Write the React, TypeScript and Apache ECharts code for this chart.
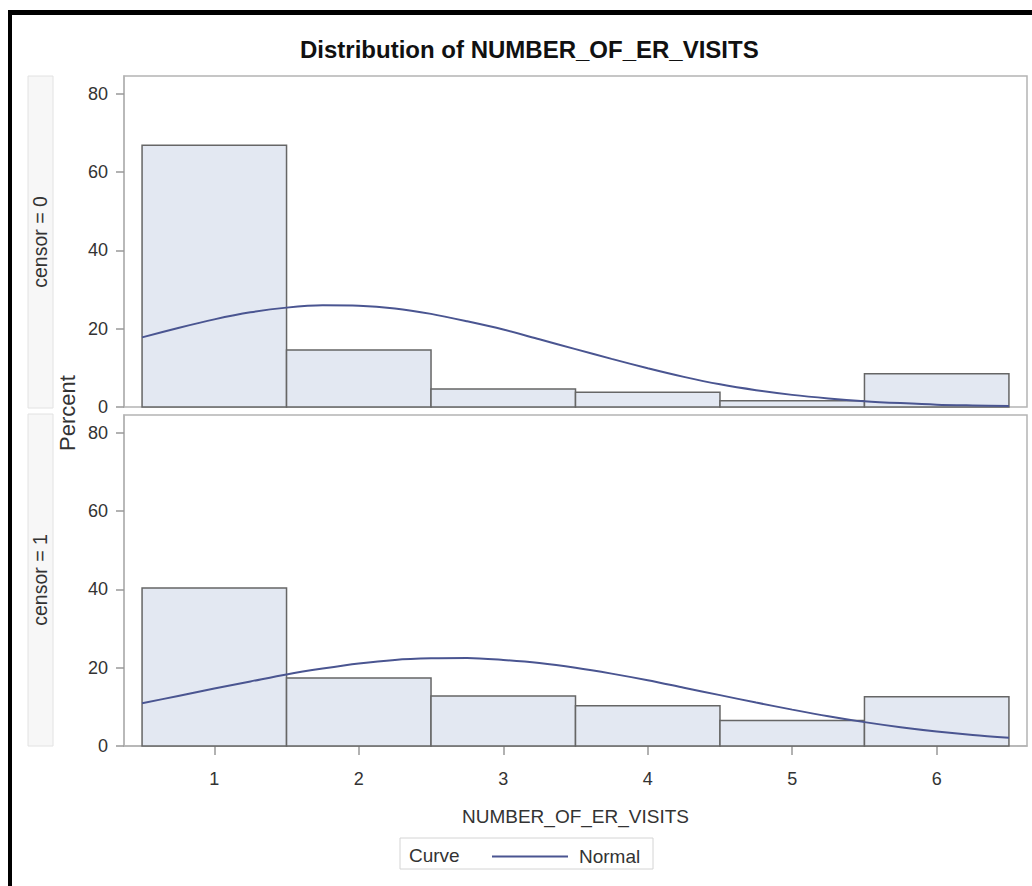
import React, { useEffect, useRef } from 'react';
import * as echarts from 'echarts';

// ---- data ----
const visits = [1, 2, 3, 4, 5, 6];
const pctCensor0 = [66.9, 14.6, 4.6, 3.8, 1.6, 8.5];
const pctCensor1 = [40.4, 17.4, 12.8, 10.3, 6.5, 12.6];
const curveX = [0.5, 0.75, 1, 1.25, 1.5, 1.75, 2, 2.25, 2.5, 2.75, 3, 3.25, 3.5, 3.75, 4, 4.25, 4.5, 4.75, 5, 5.25, 5.5, 5.75, 6, 6.25, 6.5];
const normal0 = [17.8, 20.2, 22.4, 24.2, 25.4, 26.0, 25.9, 25.2, 23.8, 21.9, 19.8, 17.3, 14.8, 12.3, 9.9, 7.7, 5.8, 4.3, 3.1, 2.2, 1.5, 1.0, 0.6, 0.4, 0.25];
const normal1 = [10.9, 12.8, 14.7, 16.5, 18.3, 19.8, 21.1, 22.0, 22.4, 22.5, 22.0, 21.2, 20.0, 18.5, 16.8, 14.9, 13.0, 11.1, 9.3, 7.6, 6.1, 4.8, 3.7, 2.8, 2.1];
const yTickValues = [0, 20, 40, 60, 80];
const xTickValues = [1, 2, 3, 4, 5, 6];
const panelLabels = ['censor = 0', 'censor = 1'];

const FONT = '"Liberation Sans", Arial, Helvetica, sans-serif';
const BAR_FILL = '#e3e8f2';
const BAR_STROKE = '#666666';
const CURVE = '#4a5591';
const FRAME = '#b4b4b4';
const TEXT = '#333333';

export default function App() {
  const ref = useRef<HTMLDivElement>(null);

  useEffect(() => {
    if (!ref.current) return;
    const chart = echarts.init(ref.current, undefined, { renderer: 'svg' });

    const barSeries = (data: number[], idx: number) => ({
      type: 'custom',
      name: 'Histogram ' + idx,
      xAxisIndex: idx,
      yAxisIndex: idx,
      encode: { x: 0, y: 1 },
      data: visits.map((v, i) => [v, data[i]]),
      renderItem: (params: any, api: any) => {
        const x = api.value(0);
        const h = api.value(1);
        const p0 = api.coord([x - 0.5, h]);
        const p1 = api.coord([x + 0.5, 0]);
        return {
          type: 'rect',
          shape: { x: p0[0], y: p0[1], width: p1[0] - p0[0], height: p1[1] - p0[1] },
          style: { fill: BAR_FILL, stroke: BAR_STROKE, lineWidth: 1.5 },
        };
      },
      z: 2,
    });

    const lineSeries = (data: number[], idx: number) => ({
      type: 'line',
      name: 'Normal',
      xAxisIndex: idx,
      yAxisIndex: idx,
      data: curveX.map((x, i) => [x, data[i]]),
      smooth: 0.3,
      symbol: 'none',
      showSymbol: false,
      lineStyle: { color: CURVE, width: 2 },
      itemStyle: { color: CURVE },
      z: 3,
    });

    const yAxis = (idx: number) => ({
      type: 'value',
      gridIndex: idx,
      min: 0,
      max: 84.6,
      axisLine: { show: true, lineStyle: { color: FRAME, width: 1.5 } },
      axisTick: { show: true, length: 8, customValues: yTickValues, lineStyle: { color: '#999999', width: 1.5 } },
      axisLabel: { customValues: yTickValues, fontSize: 18, color: TEXT, margin: 16, fontFamily: FONT },
      splitLine: { show: false },
    });

    const option: any = {
      animation: false,
      backgroundColor: '#ffffff',
      textStyle: { fontFamily: FONT },
      title: {
        text: 'Distribution of NUMBER_OF_ER_VISITS',
        left: 300,
        top: 37,
        padding: 0,
        textStyle: { fontSize: 24, fontWeight: 'bold', color: '#111111', fontFamily: FONT },
      },
      legend: {
        data: [{ name: 'Normal', icon: 'rect' }],
        left: 492,
        top: 847,
        padding: 0,
        itemWidth: 76,
        itemHeight: 2,
        itemStyle: { color: CURVE },
        textStyle: { fontSize: 19, color: TEXT, fontFamily: FONT, padding: [0, 0, 0, 6] },
      },
      grid: [
        { left: 124, top: 76, width: 903, height: 331, show: true, borderColor: FRAME, borderWidth: 1.5, backgroundColor: '#ffffff' },
        { left: 124, top: 415, width: 903, height: 331, show: true, borderColor: FRAME, borderWidth: 1.5, backgroundColor: '#ffffff' },
      ],
      xAxis: [
        { type: 'value', gridIndex: 0, min: 0.375, max: 6.625, show: false, splitLine: { show: false } },
        {
          type: 'value',
          gridIndex: 1,
          min: 0.375,
          max: 6.625,
          name: 'NUMBER_OF_ER_VISITS',
          nameLocation: 'middle',
          nameGap: 61,
          nameTextStyle: { fontSize: 19, color: TEXT, fontFamily: FONT },
          axisLine: { show: true, lineStyle: { color: FRAME, width: 1.5 } },
          axisTick: { show: true, length: 9, customValues: xTickValues, lineStyle: { color: '#999999', width: 1.5 } },
          axisLabel: { customValues: xTickValues, fontSize: 18, color: TEXT, margin: 24, fontFamily: FONT },
          splitLine: { show: false },
        },
      ],
      yAxis: [yAxis(0), yAxis(1)],
      series: [barSeries(pctCensor0, 0), lineSeries(normal0, 0), barSeries(pctCensor1, 1), lineSeries(normal1, 1)],
      graphic: [
        // black frame (top and left)
        { type: 'rect', shape: { x: 8, y: 10, width: 1024, height: 5 }, style: { fill: '#000000' }, z: 100 },
        { type: 'rect', shape: { x: 8, y: 10, width: 4, height: 876 }, style: { fill: '#000000' }, z: 100 },
        // strip boxes
        { type: 'rect', shape: { x: 28, y: 76, width: 25, height: 332 }, style: { fill: '#f7f7f7', stroke: '#e2e2e2', lineWidth: 1 } },
        { type: 'rect', shape: { x: 28, y: 414, width: 25, height: 332 }, style: { fill: '#f7f7f7', stroke: '#e2e2e2', lineWidth: 1 } },
        {
          type: 'text', x: 40, y: 242, rotation: Math.PI / 2,
          style: { text: panelLabels[0], fontSize: 19.5, fill: TEXT, fontFamily: FONT, align: 'center', verticalAlign: 'middle' },
        },
        {
          type: 'text', x: 40, y: 580, rotation: Math.PI / 2,
          style: { text: panelLabels[1], fontSize: 19.5, fill: TEXT, fontFamily: FONT, align: 'center', verticalAlign: 'middle' },
        },
        {
          type: 'text', x: 67, y: 413, rotation: Math.PI / 2,
          style: { text: 'Percent', fontSize: 22, fill: TEXT, fontFamily: FONT, align: 'center', verticalAlign: 'middle' },
        },
        // legend box and caption
        { type: 'rect', shape: { x: 400, y: 838, width: 253, height: 31 }, style: { fill: 'none', stroke: '#d4d4d4', lineWidth: 1 } },
        {
          type: 'text', x: 409, y: 855,
          style: { text: 'Curve', fontSize: 19, fill: TEXT, fontFamily: FONT, align: 'left', verticalAlign: 'middle' },
        },
      ],
    };

    chart.setOption(option);
    return () => chart.dispose();
  }, []);

  return (
    <div
      ref={ref}
      style={{ position: 'absolute', left: 0, top: 0, width: 1032, height: 886, background: '#ffffff' }}
    />
  );
}
